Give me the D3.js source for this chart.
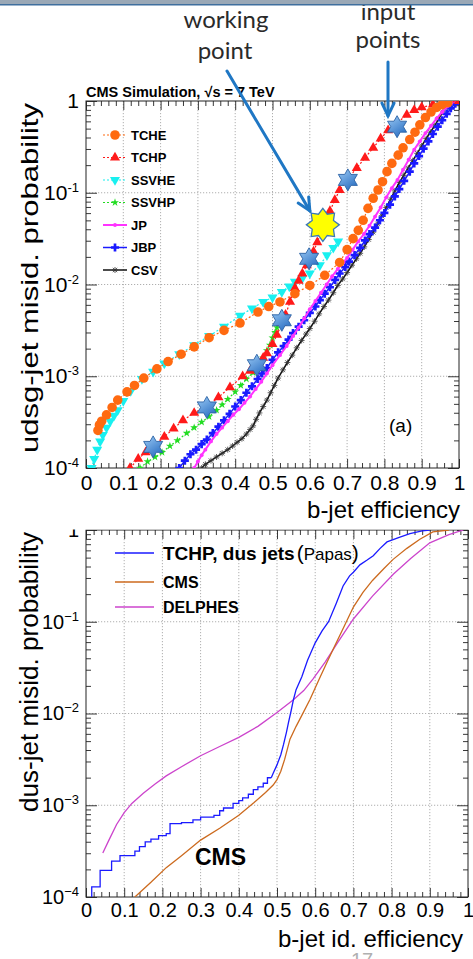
<!DOCTYPE html>
<html>
<head>
<meta charset="utf-8">
<script src="https://cdn.jsdelivr.net/npm/d3@7"></script>
<style>
  body { margin: 0; background: #fff; }
  svg { display: block; font-family: "Liberation Sans", Arial, Helvetica, sans-serif; }
</style>
</head>
<body>
<svg id="chart" width="473" height="959"></svg>
<script>
// ---------------------------------------------------------------
// Data.
// Every row is [b-jet efficiency, log10(mis-id probability)].
// ---------------------------------------------------------------

// top panel: CMS taggers
const tche = [[0.032,-3.59],[0.036,-3.53],[0.042,-3.49],[0.055,-3.42],[0.07,-3.34],[0.085,-3.26],[0.11,-3.17],[0.13,-3.10],[0.155,-3.02],[0.19,-2.92],[0.22,-2.84],[0.255,-2.76],[0.29,-2.68],[0.33,-2.58],[0.37,-2.50],[0.413,-2.42],[0.461,-2.30],[0.49,-2.24],[0.52,-2.19],[0.56,-2.10],[0.60,-2.01],[0.64,-1.90],[0.68,-1.76],[0.70,-1.62],[0.716,-1.50],[0.73,-1.41],[0.743,-1.30],[0.756,-1.17],[0.77,-1.06],[0.783,-0.97],[0.795,-0.88],[0.807,-0.77],[0.82,-0.68],[0.837,-0.59],[0.85,-0.51],[0.868,-0.42],[0.882,-0.34],[0.895,-0.26],[0.91,-0.18],[0.925,-0.12],[0.94,-0.07],[0.955,-0.04],[0.97,-0.02]];
const tchp = [[0.118,-4.0],[0.14,-3.90],[0.16,-3.83],[0.18,-3.77],[0.21,-3.66],[0.235,-3.57],[0.26,-3.48],[0.29,-3.40],[0.324,-3.33],[0.355,-3.23],[0.386,-3.12],[0.42,-3.0],[0.44,-2.94],[0.458,-2.88],[0.475,-2.80],[0.485,-2.75],[0.50,-2.65],[0.512,-2.55],[0.525,-2.42],[0.535,-2.33],[0.547,-2.19],[0.56,-2.04],[0.57,-1.96],[0.58,-1.88],[0.592,-1.79],[0.60,-1.73],[0.61,-1.64],[0.62,-1.54],[0.63,-1.44],[0.642,-1.32],[0.654,-1.20],[0.667,-1.08],[0.68,-0.97],[0.70,-0.86],[0.726,-0.73],[0.748,-0.62],[0.77,-0.51],[0.79,-0.41],[0.81,-0.32],[0.834,-0.24],[0.86,-0.15],[0.88,-0.10],[0.90,-0.07],[0.93,-0.04],[0.967,-0.02],[1.0,0]];
const ssvhe = [[0.015,-4.0],[0.022,-3.90],[0.03,-3.80],[0.038,-3.71],[0.045,-3.64],[0.055,-3.56],[0.065,-3.49],[0.075,-3.43],[0.085,-3.37],[0.10,-3.27],[0.12,-3.16],[0.15,-3.03],[0.18,-2.95],[0.21,-2.86],[0.25,-2.76],[0.29,-2.66],[0.33,-2.56],[0.37,-2.46],[0.413,-2.34],[0.445,-2.26],[0.475,-2.19],[0.50,-2.14],[0.525,-2.08],[0.545,-2.02],[0.56,-1.97],[0.58,-1.93],[0.60,-1.88],[0.627,-1.79],[0.646,-1.68],[0.663,-1.60],[0.676,-1.53]];
const ssvhp = [[0.145,-4.0],[0.165,-3.93],[0.185,-3.88],[0.204,-3.83],[0.225,-3.76],[0.245,-3.70],[0.27,-3.62],[0.29,-3.56],[0.31,-3.50],[0.33,-3.44],[0.35,-3.37],[0.365,-3.31],[0.38,-3.25],[0.40,-3.17],[0.415,-3.10],[0.43,-3.03],[0.448,-2.96],[0.462,-2.88],[0.475,-2.80],[0.485,-2.72],[0.493,-2.66],[0.50,-2.58],[0.507,-2.52],[0.512,-2.47],[0.518,-2.42],[0.525,-2.37]];
const jp = [[0.29,-4.0],[0.30,-3.93],[0.31,-3.86],[0.32,-3.80],[0.335,-3.71],[0.35,-3.63],[0.365,-3.56],[0.38,-3.49],[0.395,-3.42],[0.41,-3.36],[0.425,-3.29],[0.44,-3.22],[0.455,-3.14],[0.47,-3.06],[0.485,-2.97],[0.50,-2.88],[0.52,-2.77],[0.538,-2.67],[0.555,-2.56],[0.57,-2.47],[0.585,-2.37],[0.60,-2.27],[0.615,-2.18],[0.63,-2.09],[0.645,-2.00],[0.66,-1.91],[0.675,-1.83],[0.69,-1.76],[0.70,-1.71],[0.715,-1.62],[0.73,-1.53],[0.745,-1.45],[0.76,-1.36],[0.775,-1.26],[0.79,-1.16],[0.805,-1.05],[0.82,-0.95],[0.835,-0.86],[0.85,-0.75],[0.865,-0.64],[0.88,-0.53],[0.895,-0.44],[0.91,-0.35],[0.925,-0.27],[0.94,-0.19],[0.955,-0.12],[0.968,-0.06],[0.98,-0.02],[0.99,0]];
const jbp = [[0.25,-4.0],[0.265,-3.92],[0.28,-3.85],[0.295,-3.80],[0.31,-3.74],[0.324,-3.69],[0.34,-3.62],[0.355,-3.55],[0.37,-3.48],[0.385,-3.41],[0.40,-3.33],[0.415,-3.26],[0.43,-3.18],[0.445,-3.11],[0.46,-3.03],[0.472,-2.97],[0.485,-2.91],[0.50,-2.82],[0.515,-2.74],[0.53,-2.67],[0.543,-2.60],[0.555,-2.53],[0.57,-2.46],[0.585,-2.39],[0.60,-2.31],[0.615,-2.24],[0.627,-2.17],[0.64,-2.10],[0.654,-2.03],[0.668,-1.95],[0.68,-1.88],[0.695,-1.81],[0.705,-1.75],[0.72,-1.68],[0.735,-1.60],[0.748,-1.52],[0.76,-1.45],[0.775,-1.38],[0.788,-1.30],[0.80,-1.22],[0.815,-1.13],[0.828,-1.04],[0.84,-0.96],[0.853,-0.87],[0.868,-0.77],[0.88,-0.68],[0.893,-0.60],[0.905,-0.52],[0.918,-0.44],[0.93,-0.36],[0.943,-0.28],[0.955,-0.21],[0.967,-0.14],[0.978,-0.08],[0.99,-0.03],[1.0,0]];
const csv = [[0.31,-4.0],[0.32,-3.96],[0.335,-3.92],[0.35,-3.88],[0.365,-3.84],[0.38,-3.80],[0.393,-3.76],[0.405,-3.72],[0.418,-3.68],[0.43,-3.63],[0.44,-3.58],[0.448,-3.54],[0.456,-3.47],[0.465,-3.40],[0.475,-3.33],[0.485,-3.26],[0.495,-3.18],[0.505,-3.10],[0.515,-3.02],[0.528,-2.93],[0.54,-2.85],[0.553,-2.77],[0.565,-2.69],[0.578,-2.61],[0.59,-2.54],[0.60,-2.48],[0.613,-2.40],[0.625,-2.32],[0.638,-2.24],[0.65,-2.17],[0.663,-2.09],[0.675,-2.01],[0.688,-1.94],[0.70,-1.87],[0.713,-1.79],[0.725,-1.72],[0.735,-1.66],[0.746,-1.59],[0.758,-1.51],[0.77,-1.43],[0.782,-1.34],[0.793,-1.25],[0.805,-1.16],[0.817,-1.07],[0.828,-0.98],[0.84,-0.89],[0.852,-0.81],[0.864,-0.73],[0.876,-0.65],[0.888,-0.57],[0.90,-0.49],[0.912,-0.41],[0.923,-0.34],[0.935,-0.27],[0.946,-0.19],[0.957,-0.12],[0.967,-0.06],[0.976,-0.02],[0.985,0]];

// blue stars = input points, yellow star = working point
const inputPoints = [[0.18,-3.77],[0.324,-3.34],[0.458,-2.88],[0.525,-2.39],[0.598,-1.72],[0.702,-0.86],[0.834,-0.28]];
const workingPoint = [0.635,-1.35];

// bottom panel
const papasSteps = [[0.005,-4.1],[0.015,-3.89],[0.037,-3.71],[0.067,-3.61],[0.089,-3.55],[0.128,-3.50],[0.14,-3.45],[0.155,-3.40],[0.17,-3.37],[0.19,-3.33],[0.21,-3.31],[0.22,-3.20],[0.25,-3.19],[0.28,-3.16],[0.30,-3.13],[0.335,-3.11],[0.35,-3.06],[0.36,-3.03],[0.385,-2.98],[0.40,-2.95],[0.41,-2.92],[0.425,-2.88],[0.438,-2.83],[0.45,-2.80],[0.464,-2.76],[0.475,-2.70],[0.485,-2.70]];
const papasTail = [[0.485,-2.70],[0.49,-2.65],[0.50,-2.56],[0.51,-2.45],[0.517,-2.34],[0.525,-2.20],[0.53,-2.10],[0.537,-1.97],[0.543,-1.85],[0.55,-1.74],[0.565,-1.60],[0.58,-1.42],[0.60,-1.23],[0.618,-1.10],[0.635,-1.0],[0.655,-0.80],[0.673,-0.61],[0.69,-0.50],[0.70,-0.46],[0.717,-0.38],[0.735,-0.33],[0.752,-0.28],[0.77,-0.20],[0.788,-0.13],[0.82,-0.08],[0.848,-0.04],[0.88,-0.01],[0.90,0]];
const cmsCurve = [[0.128,-4.0],[0.17,-3.84],[0.21,-3.68],[0.25,-3.55],[0.30,-3.38],[0.35,-3.25],[0.40,-3.11],[0.44,-2.97],[0.47,-2.86],[0.49,-2.78],[0.50,-2.72],[0.51,-2.63],[0.52,-2.50],[0.534,-2.28],[0.55,-2.14],[0.565,-2.02],[0.586,-1.85],[0.61,-1.63],[0.63,-1.45],[0.647,-1.30],[0.67,-1.10],[0.70,-0.84],[0.725,-0.68],[0.75,-0.55],[0.78,-0.42],[0.804,-0.32],[0.84,-0.20],[0.874,-0.10],[0.908,-0.02],[0.95,0]];
const delphesCurve = [[0.044,-3.52],[0.06,-3.38],[0.08,-3.21],[0.10,-3.08],[0.12,-2.98],[0.15,-2.87],[0.18,-2.77],[0.21,-2.68],[0.25,-2.58],[0.30,-2.46],[0.35,-2.36],[0.40,-2.26],[0.45,-2.14],[0.50,-1.99],[0.543,-1.85],[0.57,-1.75],[0.595,-1.62],[0.626,-1.44],[0.66,-1.22],[0.70,-0.97],[0.75,-0.72],[0.805,-0.48],[0.85,-0.31],[0.90,-0.14],[0.95,-0.05],[0.988,0]];

// axis ticks
const effTicks = [0, 0.1, 0.2, 0.3, 0.4, 0.5, 0.6, 0.7, 0.8, 0.9, 1];
const decades = [1e-4, 1e-3, 1e-2, 1e-1, 1];

// ---------------------------------------------------------------
const svg = d3.select('#chart');
const defs = svg.append('defs');

// gradient for the blue stars
const grad = defs.append('linearGradient').attr('id', 'starBlue')
    .attr('x1', 0).attr('y1', 0).attr('x2', 0.6).attr('y2', 1);
grad.append('stop').attr('offset', '0%').attr('stop-color', '#9ccbf5');
grad.append('stop').attr('offset', '100%').attr('stop-color', '#2f72c4');

// star polygon with n points
function starPath(n, R, r) {
    const pts = [];
    for (let i = 0; i < 2 * n; i++) {
        const a = Math.PI * i / n - Math.PI / 2;
        const rad = i % 2 === 0 ? R : r;
        pts.push([rad * Math.cos(a), rad * Math.sin(a)]);
    }
    return 'M' + pts.map(p => p[0].toFixed(2) + ',' + p[1].toFixed(2)).join('L') + 'Z';
}

// marker shapes used by the taggers
function markerPath(type) {
    switch (type) {
        case 'circle': return d3.symbol(d3.symbolCircle, 72)();
        case 'triUp': return d3.symbol(d3.symbolTriangle, 44)();
        case 'triDown': return d3.symbol(d3.symbolTriangle, 44)();
        case 'star': return d3.symbol(d3.symbolStar, 20)();
        case 'dot': return d3.symbol(d3.symbolCircle, 12)();
        case 'cross': return d3.symbol(d3.symbolCross, 36)();
        case 'asterisk': return 'M-3,0H3M0,-3V3M-2.2,-2.2L2.2,2.2M-2.2,2.2L2.2,-2.2';
    }
}

function fmtEff(d) {
    return d === 0 ? '0' : d === 1 ? '1' : d.toFixed(1);
}

/**
 * Draws a ROOT-style frame: dotted grid, inward ticks on all four sides,
 * labels on the left and bottom. Returns the scales.
 */
function drawFrame(cfg) {
    const x = d3.scaleLinear().domain([0, 1]).range([cfg.left, cfg.right]);
    const y = d3.scaleLog().domain([1e-4, 1]).range([cfg.bottom, cfg.top]);
    const g = cfg.parent.append('g');

    const minorX = d3.range(0, 51).map(i => i / 50).filter((v, i) => i % 5 !== 0);
    const minorY = [];
    for (let e = -4; e < 0; e++) {
        for (let k = 2; k <= 9; k++) minorY.push(k * Math.pow(10, e));
    }

    // grid
    g.append('g').selectAll('line').data(effTicks.slice(1, -1)).join('line')
        .attr('x1', d => x(d)).attr('x2', d => x(d))
        .attr('y1', cfg.top).attr('y2', cfg.bottom)
        .attr('stroke', '#9a9a9a').attr('stroke-width', 0.8).attr('stroke-dasharray', '1.2,1.8');
    g.append('g').selectAll('line').data(decades.slice(1, -1)).join('line')
        .attr('y1', d => y(d)).attr('y2', d => y(d))
        .attr('x1', cfg.left).attr('x2', cfg.right)
        .attr('stroke', '#9a9a9a').attr('stroke-width', 0.8).attr('stroke-dasharray', '1.2,1.8');

    const style = sel => {
        sel.select('.domain').remove();
        sel.selectAll('line').attr('stroke', '#222').attr('stroke-width', 0.9);
        sel.attr('font-family', null).attr('font-size', null);
    };

    // bottom
    g.append('g').attr('transform', `translate(0,${cfg.bottom})`)
        .call(d3.axisBottom(x).tickValues(minorX).tickSize(-5).tickFormat('')).call(style);
    g.append('g').attr('transform', `translate(0,${cfg.bottom})`)
        .call(d3.axisBottom(x).tickValues(effTicks).tickSize(-9).tickPadding(cfg.xPad).tickFormat(fmtEff))
        .call(style)
        .call(s => s.selectAll('text').attr('font-size', cfg.tickFont).attr('fill', '#000'));
    // top
    g.append('g').attr('transform', `translate(0,${cfg.top})`)
        .call(d3.axisTop(x).tickValues(minorX).tickSize(-5).tickFormat('')).call(style);
    g.append('g').attr('transform', `translate(0,${cfg.top})`)
        .call(d3.axisTop(x).tickValues(effTicks).tickSize(-9).tickFormat('')).call(style);
    // left
    g.append('g').attr('transform', `translate(${cfg.left},0)`)
        .call(d3.axisLeft(y).tickValues(minorY).tickSize(-5).tickFormat('')).call(style);
    const yAx = g.append('g').attr('transform', `translate(${cfg.left},0)`)
        .call(d3.axisLeft(y).tickValues(decades).tickSize(-11).tickPadding(cfg.yPad).tickFormat(''))
        .call(style);
    yAx.selectAll('.tick text').each(function (d) {
        const t = d3.select(this).attr('font-size', cfg.tickFont).attr('fill', '#000');
        if (d === 1) { t.text('1'); return; }
        t.append('tspan').text('10');
        t.append('tspan').attr('dy', -8).attr('font-size', 13)
            .text(cfg.minus + (-Math.round(Math.log10(d))));
    });
    // right
    g.append('g').attr('transform', `translate(${cfg.right},0)`)
        .call(d3.axisRight(y).tickValues(minorY).tickSize(-5).tickFormat('')).call(style);
    g.append('g').attr('transform', `translate(${cfg.right},0)`)
        .call(d3.axisRight(y).tickValues(decades).tickSize(-11).tickFormat('')).call(style);

    // frame
    g.append('rect').attr('x', cfg.left).attr('y', cfg.top)
        .attr('width', cfg.right - cfg.left).attr('height', cfg.bottom - cfg.top)
        .attr('fill', 'none').attr('stroke', '#222').attr('stroke-width', 1);

    return {x, y, g};
}

// ================= TOP PANEL =================
const topCfg = {left: 86, right: 459, top: 101, bottom: 468, xPad: 7, yPad: 7,
    tickFont: 21, minus: '-', parent: svg};
const topP = drawFrame(topCfg);
const xT = topP.x, yT = topP.y;

defs.append('clipPath').attr('id', 'clipTop').append('rect')
    .attr('x', topCfg.left).attr('y', topCfg.top)
    .attr('width', topCfg.right - topCfg.left).attr('height', topCfg.bottom - topCfg.top);

const taggers = [
    {name: 'TCHE', data: tche, color: '#ff6a10', marker: 'circle', dash: '2,2', width: 1.2},
    {name: 'TCHP', data: tchp, color: '#ff1a1a', marker: 'triUp', dash: '2,2', width: 1.2},
    {name: 'SSVHE', data: ssvhe, color: '#19f0f0', marker: 'triDown', dash: '2,2', width: 1.2},
    {name: 'SSVHP', data: ssvhp, color: '#22dd22', marker: 'star', dash: '2,2', width: 1.2},
    {name: 'JP', data: jp, color: '#ff33ff', marker: 'dot', dash: null, width: 2},
    {name: 'JBP', data: jbp, color: '#1a1aff', marker: 'cross', dash: null, width: 1.5},
    {name: 'CSV', data: csv, color: '#111111', marker: 'asterisk', dash: null, width: 1.5}
];

const lineT = d3.line().x(d => xT(d[0])).y(d => yT(Math.pow(10, d[1])));
const plotT = svg.append('g').attr('clip-path', 'url(#clipTop)');

// draw back to front so CSV/JBP sit underneath the coloured markers like the original
taggers.slice().reverse().forEach(s => {
    plotT.append('path').datum(s.data)
        .attr('d', lineT).attr('fill', 'none')
        .attr('stroke', s.color).attr('stroke-width', s.width)
        .attr('stroke-dasharray', s.dash);
    const m = plotT.append('g').selectAll('path').data(s.data).join('path')
        .attr('d', markerPath(s.marker))
        .attr('transform', d => `translate(${xT(d[0])},${yT(Math.pow(10, d[1]))})` + (s.marker === 'triDown' ? ' rotate(180)' : ''));
    if (s.marker === 'asterisk') m.attr('fill', 'none').attr('stroke', '#333').attr('stroke-width', 0.8);
    else m.attr('fill', s.color);
});

// legend
const leg = svg.append('g');
taggers.forEach((s, i) => {
    const ly = 135 + i * 22.5;
    leg.append('line').attr('x1', 103).attr('x2', 127).attr('y1', ly).attr('y2', ly)
        .attr('stroke', s.color).attr('stroke-width', s.width).attr('stroke-dasharray', s.dash);
    const m = leg.append('path').attr('d', markerPath(s.marker))
        .attr('transform', `translate(115,${ly})` + (s.marker === 'triDown' ? ' rotate(180)' : ''));
    if (s.marker === 'asterisk') m.attr('fill', 'none').attr('stroke', '#333').attr('stroke-width', 0.8);
    else m.attr('fill', s.color);
    leg.append('text').attr('x', 131).attr('y', ly).attr('dy', '0.36em')
        .attr('font-weight', 'bold').attr('font-size', 13).text(s.name);
});

// input points (blue six-pointed stars) and working point (yellow)
svg.append('g').selectAll('path').data(inputPoints).join('path')
    .attr('d', starPath(6, 11, 6.3))
    .attr('transform', d => `translate(${xT(d[0])},${yT(Math.pow(10, d[1]))})`)
    .attr('fill', 'url(#starBlue)').attr('stroke', '#2b62a5').attr('stroke-width', 0.9);
const wpX = xT(workingPoint[0]), wpY = yT(Math.pow(10, workingPoint[1]));
svg.append('path').attr('d', starPath(8, 16.5, 11.5))
    .attr('transform', `translate(${wpX},${wpY})`)
    .attr('fill', '#ffff00').attr('stroke', '#3a78b8').attr('stroke-width', 1.3);

// titles
svg.append('text').attr('x', 86).attr('y', 97).attr('font-weight', 'bold')
    .attr('font-size', 14.5).text('CMS Simulation, \u221As = 7 TeV');
svg.append('text').attr('transform', 'translate(38,278) rotate(-90)')
    .attr('text-anchor', 'middle').attr('font-size', 24)
    .attr('textLength', 350).attr('lengthAdjust', 'spacingAndGlyphs')
    .text('udsg-jet misid. probability');
svg.append('text').attr('x', 460).attr('y', 518).attr('text-anchor', 'end')
    .attr('font-size', 24).text('b-jet efficiency');
svg.append('text').attr('x', 389).attr('y', 432).attr('font-size', 19).text('(a)');

// arrows and slide annotations
const arrowColor = '#1f77c4';
function arrow(x1, y1, x2, y2) {
    const a = Math.atan2(y2 - y1, x2 - x1);
    const L = 14, spread = 0.45;
    const g = svg.append('g').attr('stroke', arrowColor).attr('stroke-width', 3)
        .attr('stroke-linecap', 'round').attr('fill', 'none');
    g.append('line').attr('x1', x1).attr('y1', y1).attr('x2', x2).attr('y2', y2);
    g.append('path').attr('d', `M${x2 - L * Math.cos(a - spread)},${y2 - L * Math.sin(a - spread)}L${x2},${y2}L${x2 - L * Math.cos(a + spread)},${y2 - L * Math.sin(a + spread)}`);
}
arrow(227, 71, wpX - 13, wpY - 14);
const ip = inputPoints[inputPoints.length - 1];
arrow(388, 62, 388, yT(Math.pow(10, ip[1])) - 11);

const noteFont = 'Lato, "Open Sans", sans-serif';
[['working', 226, 28], ['point', 225, 59], ['input', 388, 20], ['points', 388, 48]].forEach(t => {
    svg.append('text').attr('x', t[1]).attr('y', t[2]).attr('text-anchor', 'middle')
        .attr('font-family', noteFont).attr('font-size', 24).attr('fill', '#2a2a2a').text(t[0]);
});

// slide header strip
svg.append('rect').attr('x', 0).attr('y', 0).attr('width', 473).attr('height', 4).attr('fill', '#9aa8b6');
svg.append('rect').attr('x', 0).attr('y', 4).attr('width', 473).attr('height', 1.5).attr('fill', '#3f6f9e');

// ================= BOTTOM PANEL =================
defs.append('clipPath').attr('id', 'cutBot').append('rect')
    .attr('x', 0).attr('y', 529.5).attr('width', 473).attr('height', 430);
const botLayer = svg.append('g').attr('clip-path', 'url(#cutBot)');
const botCfg = {left: 86, right: 468, top: 530, bottom: 897, xPad: 6, yPad: 7,
    tickFont: 20, minus: '\u2212', parent: botLayer};
const botP = drawFrame(botCfg);
const xB = botP.x, yB = botP.y;

defs.append('clipPath').attr('id', 'clipBot').append('rect')
    .attr('x', botCfg.left).attr('y', botCfg.top)
    .attr('width', botCfg.right - botCfg.left).attr('height', botCfg.bottom - botCfg.top);
const plotB = svg.append('g').attr('clip-path', 'url(#clipBot)');

const lineB = d3.line().x(d => xB(d[0])).y(d => yB(Math.pow(10, d[1])));
const curves = [
    {name: 'DELPHES', data: delphesCurve, color: '#cc44cc', curve: d3.curveLinear},
    {name: 'CMS', data: cmsCurve, color: '#cc6a1e', curve: d3.curveLinear},
    {name: 'papasSteps', data: papasSteps, color: '#1a1aff', curve: d3.curveStepAfter},
    {name: 'papasTail', data: papasTail, color: '#1a1aff', curve: d3.curveLinear}
];
curves.forEach(c => {
    plotB.append('path').datum(c.data)
        .attr('d', lineB.curve(c.curve)).attr('fill', 'none')
        .attr('stroke', c.color).attr('stroke-width', 1.3);
});

// legend
const legB = svg.append('g');
[['#1a1aff', 553], ['#cc6a1e', 582], ['#cc44cc', 607]].forEach(r => {
    legB.append('line').attr('x1', 115).attr('x2', 154).attr('y1', r[1]).attr('y2', r[1])
        .attr('stroke', r[0]).attr('stroke-width', 1.4);
});
const t1 = legB.append('text').attr('x', 163).attr('y', 560).attr('font-size', 19);
t1.append('tspan').attr('font-weight', 'bold').text('TCHP, dus jets');
t1.append('tspan').attr('font-size', 21).attr('dx', 2).text('(');
t1.append('tspan').attr('font-size', 17).text('Papas');
t1.append('tspan').attr('font-size', 21).text(')');
legB.append('text').attr('x', 163).attr('y', 588).attr('font-size', 16)
    .attr('font-weight', 'bold').text('CMS');
legB.append('text').attr('x', 163).attr('y', 613).attr('font-size', 16)
    .attr('font-weight', 'bold').text('DELPHES');

svg.append('text').attr('x', 195).attr('y', 865).attr('font-size', 23)
    .attr('font-weight', 'bold').text('CMS');

svg.append('text').attr('transform', 'translate(38,672) rotate(-90)')
    .attr('text-anchor', 'middle').attr('font-size', 25)
    .attr('textLength', 280).attr('lengthAdjust', 'spacingAndGlyphs')
    .text('dus-jet misid. probability');
svg.append('text').attr('x', 463).attr('y', 947).attr('text-anchor', 'end')
    .attr('font-size', 24).text('b-jet id. efficiency');

// page number peeking in at the bottom edge
svg.append('text').attr('x', 351).attr('y', 967).attr('font-size', 20)
    .attr('fill', '#b0b0b0').text('17');
</script>
</body>
</html>
